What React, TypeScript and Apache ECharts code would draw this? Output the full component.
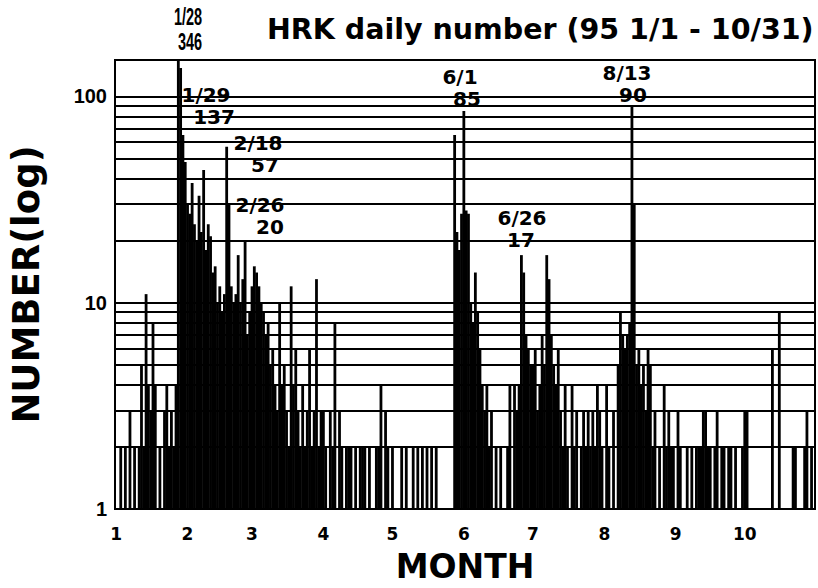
import React, { useEffect, useRef } from "react";
import * as echarts from "echarts";

// Daily counts, 1995 (Jan 1 - Oct 31)
const jan = [1,1,2,1,2,1,3,1,2,1, 2,5,2,11,4,3,8,4,1,2, 1,3,4,2,3,2,4,346,137,65, 48];
const feb = [30,27,38,24,20,33,22,44,18,24, 21,14,15,10,12,9,11,57,30,12, 10,11,17,10,13,20,7,9];
const mar = [12,15,14,12,10,9,7,8,5,6, 4,3,10,4,5,3,2,12,4,6, 3,2,4,2,3,6,2,3,13,2, 3];
const apr = [3,2,1,3,2,8,1,3,2,1, 2,2,2,1,2,1,2,2,2,1, 2,1,1,2,2,4,1,3,2,1];
const may = [2,1,1,1,2,1,2,1,1,2, 1,2,1,2,1,2,1,2,1,2, 1,1,1,1,1,1,1,65,22,18, 27];
const jun = [85,28,27,10,8,14,9,6,4,3, 4,2,3,1,2,1,2,1,1,2, 4,1,4,3,4,17,14,7,6,5];
const jul = [5,6,3,4,7,5,17,13,7,5, 4,6,3,2,4,2,1,4,2,3, 1,2,3,2,3,2,3,2,4,3, 2];
const aug = [1,4,2,1,3,1,5,9,7,6, 7,8,90,30,5,6,4,5,3,6, 5,2,3,1,2,1,4,2,3,2, 2];
const sep = [1,3,2,1,1,2,1,2,1,2, 2,2,3,3,2,2,1,2,3,1, 2,2,1,2,2,1,2,1,1,2];
const oct = [3,3,1,1,1,1,1,1,1,1, 1,1,6,1,1,9,1,1,1,1, 1,2,2,1,1,1,2,3,1,2, 1];

const months = [jan, feb, mar, apr, may, jun, jul, aug, sep, oct];
const gridLevels = [2,3,4,5,6,7,8,9,10,20,30,40,50,60,70,80,90,100];

const annotations = [
  { date: "1/28", value: "346", x: 188, y: 17, dx: 2, size: 23, sx: 0.63, family: "Liberation Sans" },
  { date: "1/29", value: "137", x: 206, y: 95, dx: 8, size: 20, sx: 1, family: "DejaVu Sans" },
  { date: "2/18", value: "57", x: 258, y: 143, dx: 7, size: 20, sx: 1, family: "DejaVu Sans" },
  { date: "2/26", value: "20", x: 260, y: 205, dx: 10, size: 20, sx: 1, family: "DejaVu Sans" },
  { date: "6/1", value: "85", x: 460, y: 77, dx: 7, size: 20, sx: 1, family: "DejaVu Sans" },
  { date: "6/26", value: "17", x: 522, y: 218, dx: -1, size: 20, sx: 1, family: "DejaVu Sans" },
  { date: "8/13", value: "90", x: 627, y: 73, dx: 6, size: 20, sx: 1, family: "DejaVu Sans" },
];

const FONT = "DejaVu Sans";

export default function App() {
  const ref = useRef<HTMLDivElement>(null);
  useEffect(() => {
    if (!ref.current) return;
    const chart = echarts.init(ref.current, undefined, { renderer: "svg" });
    const values: number[] = [];
    const labels: string[] = [];
    months.forEach((m, mi) => {
      m.forEach((v, di) => {
        values.push(v);
        labels.push(`${mi + 1}/${di + 1}`);
      });
    });
    const graphic: any[] = [];
    annotations.forEach((a) => {
      const lh = a.size + 2;
      graphic.push({
        type: "text",
        x: a.x,
        y: a.y,
        scaleX: a.sx,
        z: 100,
        style: {
          text: a.date,
          font: `bold ${a.size}px "${a.family}"`,
          fill: "#000",
          textAlign: "center",
          textVerticalAlign: "middle",
        },
      });
      graphic.push({
        type: "text",
        x: a.x + a.dx,
        y: a.y + lh,
        scaleX: a.sx,
        z: 100,
        style: {
          text: a.value,
          font: `bold ${a.size}px "${a.family}"`,
          fill: "#000",
          textAlign: "center",
          textVerticalAlign: "middle",
        },
      });
    });
    chart.setOption({
      animation: false,
      backgroundColor: "#fff",
      title: {
        text: "HRK daily number (95 1/1 - 10/31)",
        left: 262,
        top: 10,
        textStyle: { fontFamily: FONT, fontWeight: "bold", fontSize: 28.5, color: "#000" },
      },
      grid: {
        left: 115,
        top: 60,
        width: 700,
        height: 453,
        show: true,
        borderColor: "#000",
        borderWidth: 2,
        backgroundColor: "transparent",
      },
      xAxis: {
        type: "category",
        data: labels,
        name: "MONTH",
        nameLocation: "middle",
        nameGap: 41,
        nameTextStyle: { fontFamily: FONT, fontWeight: "bold", fontSize: 33, color: "#000" },
        axisLine: { lineStyle: { color: "#000", width: 2 } },
        axisTick: { show: false },
        splitLine: { show: false },
        axisLabel: {
          interval: (i: number, v: string) => v.endsWith("/1"),
          formatter: (v: string) => v.split("/")[0],
          fontFamily: FONT,
          fontWeight: "bold",
          fontSize: 17,
          color: "#000",
          margin: 16,
        },
      },
      yAxis: {
        type: "log",
        logBase: 10,
        min: 1,
        max: 150,
        name: "NUMBER(log)",
        nameLocation: "middle",
        nameGap: 70,
        nameTextStyle: { fontFamily: FONT, fontWeight: "bold", fontSize: 37, color: "#000" },
        axisLine: { show: true, lineStyle: { color: "#000", width: 2 } },
        axisTick: { show: false },
        splitLine: { show: false },
        axisLabel: {
          fontFamily: "Liberation Sans",
          fontWeight: "bold",
          fontSize: 20,
          color: "#000",
          margin: 8,
          showMaxLabel: false,
          formatter: (v: number) => {
            const l = Math.log10(v);
            return Math.abs(l - Math.round(l)) < 1e-6 ? String(Math.round(v)) : "";
          },
        },
      },
      series: [
        {
          type: "bar",
          data: values,
          barWidth: 2.8,
          clip: true,
          itemStyle: { color: "#000" },
          markLine: {
            silent: true,
            symbol: ["none", "none"],
            label: { show: false },
            lineStyle: { color: "#000", width: 2, type: "solid" },
            data: gridLevels.map((v) => ({ yAxis: v })),
          },
        },
      ],
      graphic,
    });
    return () => chart.dispose();
  }, []);
  return (
    <div
      ref={ref}
      style={{ position: "fixed", left: 0, top: 0, width: 818, height: 588, background: "#fff" }}
    />
  );
}
